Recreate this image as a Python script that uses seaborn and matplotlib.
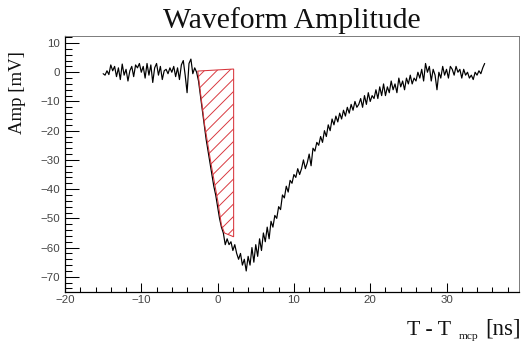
import numpy as np
import pandas as pd
import matplotlib
matplotlib.use("Agg")
import matplotlib.pyplot as plt
from matplotlib.ticker import MultipleLocator
import seaborn as sns

# ---------------- data ----------------
sample_start = -15.0   # ns, first sample time
sample_step = 0.25     # ns, digitizer sampling period

# baseline before the pulse (-15.0 .. -2.75 ns)
amp_baseline = [
    -0.5, -1.0, 0.5, -0.8,
    2.5, 0.5, 2.0, -1.5,
    1.5, -2.5, 2.8, -1.0,
    1.0, -3.0, 0.5, 2.0,
    -1.5, 2.5, 1.5, 3.0,
    0.0, 2.0, -2.0, 3.0,
    -1.0, 2.5, -3.5, 1.5,
    3.0, -1.0, 2.0, -2.5,
    0.5, 1.0, -0.5, 1.5,
    0.0, 2.0, -1.5, 1.5,
    -2.5, 2.5, 4.0, -1.0,
    -7.0, 3.0, 4.5, -0.5,
    1.5, 0.0,
]
# pulse and recovery (-2.5 .. 35.0 ns)
amp_pulse = [
    -3, -8, -13, -18,
    -23, -27, -31, -35,
    -39, -42, -46, -50,
    -53, -55, -59, -57,
    -59, -58, -61, -59,
    -62, -64, -62, -66,
    -64, -68, -63, -66,
    -60, -65, -59, -63,
    -57, -61, -55, -58,
    -53, -57, -51, -53,
    -49, -50, -46, -47,
    -42, -43, -39, -41,
    -37, -38, -35, -36,
    -33, -35, -33, -30,
    -33, -31, -28, -32,
    -26, -27, -24, -25,
    -22, -24, -20, -22,
    -18, -20, -16, -18,
    -15, -17, -14, -16,
    -13, -15, -12, -14,
    -11, -13, -10, -12,
    -11, -9, -12, -8,
    -11, -7, -10, -8,
    -9, -6, -9, -5,
    -8, -4, -8, -5,
    -7, -3, -6, -4,
    -7, -2, -5, -3,
    -6, -2, -4, -1,
    -4, -2, -3, 0,
    -2, 1, -3, 3,
    0, 2, -3, 1,
    -1, -6, 0, -2,
    2, -1, 1, -2,
    2, 1, -1, 2,
    0, 1, -2, 1,
    -1, 0, -2, -1,
    -2.5, 0, -1, 0.5,
    -0.5, 1.5, 3.0,
]
amplitude = amp_baseline + amp_pulse

# hatched integration region (outline vertices, data units)
hatch_t = [-2.6, -2.2, -1.7, -0.83, 0.04, 0.5, 0.9, 2.1, 2.1, -2.6]
hatch_amp = [0.4, -8.0, -18.1, -31.8, -44.3, -52.3, -55.0, -56.3, 1.1, 0.4]

title_text = "Waveform Amplitude"
ylabel_text = "Amp [mV]"
xlabel_main = "T - T"
xlabel_sub = "mcp"
xlabel_unit = "[ns]"

# ---------------- figure ----------------
times = sample_start + sample_step * np.arange(len(amplitude))
df = pd.DataFrame({"t": times, "amp": amplitude})

sns.set_style("white")
plt.rcParams["font.family"] = ["Liberation Sans", "DejaVu Sans"]
plt.rcParams["hatch.linewidth"] = 0.9
red = "#d8353c"
plt.rcParams["hatch.color"] = red

DPI = 75
W, H = 525, 347
fig = plt.figure(figsize=(W / DPI, H / DPI), dpi=DPI)
fig.patch.set_facecolor("white")
ax = fig.add_axes([65 / W, 1 - 292 / H, (519 - 65) / W, (292 - 36) / H])

sns.lineplot(data=df, x="t", y="amp", ax=ax, color="black",
             linewidth=1.15, estimator=None, sort=False)

ax.fill(hatch_t, hatch_amp, facecolor="none", edgecolor=red,
        hatch="//", linewidth=1.0, zorder=3)

ax.set_xlim(-20, 39.5)
ax.set_ylim(-75.2, 12.4)
ax.set_xlabel("")
ax.set_ylabel("")

ax.xaxis.set_major_locator(MultipleLocator(10))
ax.xaxis.set_minor_locator(MultipleLocator(2))
ax.yaxis.set_major_locator(MultipleLocator(10))
ax.yaxis.set_minor_locator(MultipleLocator(2))

ax.tick_params(axis="both", which="both", direction="in", top=False,
               right=False, bottom=True, left=True, color="black",
               labelcolor="#454545", labelsize=11)
ax.tick_params(axis="y", which="major", length=13, width=1.0, pad=5)
ax.tick_params(axis="y", which="minor", length=7, width=1.0)
ax.tick_params(axis="x", which="major", length=9, width=1.0, pad=3)
ax.tick_params(axis="x", which="minor", length=4.5, width=1.0)

for s in ["left", "bottom"]:
    ax.spines[s].set_color("black")
    ax.spines[s].set_linewidth(1.2)
for s in ["top", "right"]:
    ax.spines[s].set_color("#777777")
    ax.spines[s].set_linewidth(0.9)

serif = ["Liberation Serif", "DejaVu Serif"]
fig.text(292 / W, 1 - 28 / H, title_text, ha="center", va="baseline",
         family=serif, fontsize=28.5, color="#111111")
fig.text(18 / W, 1 - 93 / H, ylabel_text, ha="center", va="center",
         rotation=90, family=serif, fontsize=18, color="#111111")
fig.text(407 / W, 1 - 335 / H, xlabel_main, ha="left", va="baseline",
         family=serif, fontsize=21, color="#111111")
fig.text(459 / W, 1 - 339 / H, xlabel_sub, ha="left", va="baseline",
         family=serif, fontsize=11, color="#111111")
fig.text(521 / W, 1 - 335 / H, xlabel_unit, ha="right", va="baseline",
         family=serif, fontsize=22, color="#111111")

fig.savefig("out.png", dpi=DPI, facecolor="white")
